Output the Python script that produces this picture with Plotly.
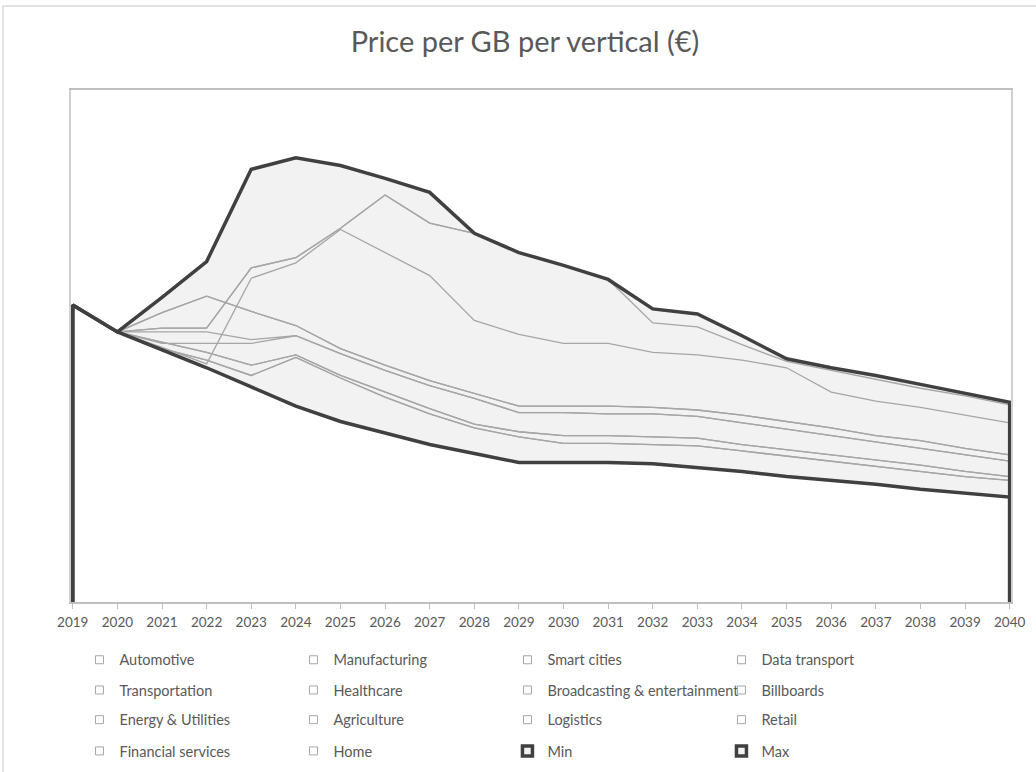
import plotly.graph_objects as go

# Forecast years on the category axis
years = [2019, 2020, 2021, 2022, 2023, 2024, 2025, 2026, 2027, 2028, 2029,
         2030, 2031, 2032, 2033, 2034, 2035, 2036, 2037, 2038, 2039, 2040]

# Price per GB (EUR) for each vertical
automotive = [2.32, 2.11, 1.99, 1.86, 2.53, 2.65, 2.91, 2.73, 2.55, 2.20, 2.09,
              2.02, 2.02, 1.95, 1.93, 1.89, 1.83, 1.64, 1.57, 1.52, 1.46, 1.40]
manufacturing = [2.32, 2.11, 2.26, 2.39, 2.27, 2.16, 1.98, 1.85, 1.73, 1.63, 1.53,
                 1.53, 1.53, 1.52, 1.50, 1.46, 1.41, 1.36, 1.30, 1.26, 1.20, 1.15]
smart_cities = [2.32, 2.11, 2.14, 2.14, 2.61, 2.69, 2.92, 3.18, 2.96, 2.88, 2.73,
                2.63, 2.52, 2.29, 2.25, 2.08, 1.90, 1.83, 1.77, 1.70, 1.63, 1.56]
data_transport = [2.32, 2.11, 2.38, 2.66, 3.38, 3.47, 3.41, 3.31, 3.20, 2.88, 2.73,
                  2.63, 2.52, 2.29, 2.25, 2.08, 1.90, 1.83, 1.77, 1.70, 1.63, 1.56]
transportation = [2.32, 2.11, 2.11, 2.11, 2.05, 2.08, 1.94, 1.81, 1.69, 1.59, 1.48,
                  1.48, 1.47, 1.47, 1.45, 1.40, 1.35, 1.30, 1.25, 1.20, 1.15, 1.10]
healthcare = [2.32, 2.11, 2.03, 1.95, 1.85, 1.93, 1.77, 1.64, 1.51, 1.39, 1.33,
              1.30, 1.30, 1.29, 1.28, 1.23, 1.19, 1.15, 1.11, 1.07, 1.02, 0.98]
broadcasting = [2.32, 2.11, 1.98, 1.89, 1.77, 1.91, 1.75, 1.60, 1.47, 1.36, 1.29,
                1.24, 1.24, 1.23, 1.22, 1.18, 1.14, 1.10, 1.06, 1.02, 0.98, 0.95]
billboards = [2.32, 2.11, 1.97, 1.83, 1.68, 1.53, 1.41, 1.32, 1.23, 1.16, 1.09,
              1.09, 1.09, 1.08, 1.05, 1.02, 0.98, 0.95, 0.92, 0.88, 0.85, 0.82]
energy_utilities = [2.32, 2.11, 2.02, 2.02, 2.02, 2.08, 1.94, 1.81, 1.69, 1.59, 1.48,
                    1.48, 1.47, 1.47, 1.45, 1.40, 1.35, 1.30, 1.25, 1.20, 1.15, 1.10]
agriculture = [2.32, 2.11, 2.03, 1.95, 1.85, 1.93, 1.77, 1.64, 1.51, 1.39, 1.33,
               1.30, 1.30, 1.29, 1.28, 1.23, 1.19, 1.15, 1.11, 1.07, 1.02, 0.98]
logistics = [2.32, 2.11, 2.26, 2.39, 2.27, 2.16, 1.98, 1.85, 1.73, 1.63, 1.53,
             1.53, 1.53, 1.52, 1.50, 1.46, 1.41, 1.36, 1.30, 1.26, 1.20, 1.15]
retail = [2.32, 2.11, 2.14, 2.14, 2.61, 2.69, 2.92, 3.18, 2.96, 2.88, 2.73,
          2.63, 2.52, 2.18, 2.15, 2.01, 1.88, 1.81, 1.74, 1.67, 1.61, 1.54]
financial_services = [2.32, 2.11, 1.97, 1.83, 1.68, 1.53, 1.41, 1.32, 1.23, 1.16, 1.09,
                      1.09, 1.09, 1.08, 1.05, 1.02, 0.98, 0.95, 0.92, 0.88, 0.85, 0.82]
home = [2.32, 2.11, 1.98, 1.89, 1.77, 1.91, 1.75, 1.60, 1.47, 1.36, 1.29,
        1.24, 1.24, 1.23, 1.22, 1.18, 1.14, 1.10, 1.06, 1.02, 0.98, 0.95]

# Envelope over all verticals
price_min = [2.32, 2.11, 1.97, 1.83, 1.68, 1.53, 1.41, 1.32, 1.23, 1.16, 1.09,
             1.09, 1.09, 1.08, 1.05, 1.02, 0.98, 0.95, 0.92, 0.88, 0.85, 0.82]
price_max = [2.32, 2.11, 2.38, 2.66, 3.38, 3.47, 3.41, 3.31, 3.20, 2.88, 2.73,
             2.63, 2.52, 2.29, 2.25, 2.08, 1.90, 1.83, 1.77, 1.70, 1.63, 1.56]

verticals = [
    ("Automotive", automotive), ("Manufacturing", manufacturing),
    ("Smart cities", smart_cities), ("Data transport", data_transport),
    ("Transportation", transportation), ("Healthcare", healthcare),
    ("Broadcasting & entertainment", broadcasting), ("Billboards", billboards),
    ("Energy & Utilities", energy_utilities), ("Agriculture", agriculture),
    ("Logistics", logistics), ("Retail", retail),
    ("Financial services", financial_services), ("Home", home),
]

BASELINE = 0.0
FONT = "Lato, Carlito, Calibri, sans-serif"
TEXT = "#595959"
DARK = "#404040"
GREY_LINE = "#a6a6a6"
BAND = "#f2f2f2"

fig = go.Figure()

# Shaded band between the min and max envelopes
fig.add_trace(go.Scatter(x=years, y=price_min, mode="lines",
                         line=dict(width=0, color=BAND), showlegend=False,
                         hoverinfo="skip"))
fig.add_trace(go.Scatter(x=years, y=price_max, mode="lines", fill="tonexty",
                         fillcolor=BAND, line=dict(width=0, color=BAND),
                         showlegend=False, hoverinfo="skip"))

# One thin grey line per vertical
for name, vals in verticals:
    fig.add_trace(go.Scatter(x=years, y=vals, mode="lines", name=name,
                             line=dict(color=GREY_LINE, width=1.3),
                             showlegend=False))

# Heavy outlines of the min / max areas (closed down to the baseline)
edge_x = [years[0]] + years + [years[-1]]
for name, vals in (("Min", price_min), ("Max", price_max)):
    fig.add_trace(go.Scatter(x=edge_x, y=[BASELINE] + vals + [BASELINE],
                             mode="lines", name=name,
                             line=dict(color=DARK, width=3.5),
                             showlegend=False))

# Legend: four rows of four entries
legend_names = [n for n, _ in verticals] + ["Min", "Max"]
row_y = [-0.113, -0.172, -0.230, -0.291]
legend_ids = ["legend", "legend2", "legend3", "legend4"]
for i, name in enumerate(legend_names):
    heavy = name in ("Min", "Max")
    marker = (dict(symbol="square", size=10, color=BAND,
                   line=dict(color=DARK, width=3.5)) if heavy else
              dict(symbol="square", size=8, color="white",
                   line=dict(color=GREY_LINE, width=1)))
    fig.add_trace(go.Scatter(x=[None], y=[None], mode="markers", name=name,
                             marker=marker, legend=legend_ids[i // 4],
                             showlegend=True))

legend_common = dict(orientation="h", x=0.009, xanchor="left", yanchor="middle",
                     traceorder="normal",
                     entrywidth=169, entrywidthmode="pixels",
                     font=dict(family=FONT, size=14.5, color=TEXT),
                     bgcolor="rgba(0,0,0,0)", itemclick=False,
                     itemdoubleclick=False)

fig.update_layout(
    width=1036, height=772,
    margin=dict(l=71, r=25, t=90, b=170, autoexpand=False),
    paper_bgcolor="white", plot_bgcolor="white",
    title=dict(text="Price per GB per vertical (€)", x=0.483, xref="paper",
               xanchor="center", y=1 - 42 / 772, yref="container",
               yanchor="middle",
               font=dict(family=FONT, size=29, color=TEXT)),
    legend=dict(y=row_y[0], **legend_common),
    legend2=dict(y=row_y[1], **legend_common),
    legend3=dict(y=row_y[2], **legend_common),
    legend4=dict(y=row_y[3], **legend_common),
    xaxis=dict(range=[2018.96, 2040.03], tickmode="array", tickvals=years,
               ticktext=[str(y) for y in years], showgrid=False,
               zeroline=False, showline=True, linecolor="#bfbfbf",
               linewidth=1.5, mirror=True, ticks="outside", ticklen=5,
               tickcolor="#bfbfbf", ticklabelstandoff=2,
               tickfont=dict(family=FONT, size=13.5, color=TEXT)),
    yaxis=dict(range=[0, 4], showticklabels=False, showgrid=False,
               zeroline=False, showline=True, linecolor="#d0d0d0",
               linewidth=1.5, mirror=True, ticks=""),
    shapes=[dict(type="rect", xref="paper", yref="paper",
                 x0=(3 - 71) / 940, x1=(1080 - 71) / 940,
                 y0=(602 - 820) / 512, y1=(602 - 6) / 512,
                 line=dict(color="#d9d9d9", width=1.5), layer="below")],
    showlegend=True,
)

fig.write_html("out.html")
